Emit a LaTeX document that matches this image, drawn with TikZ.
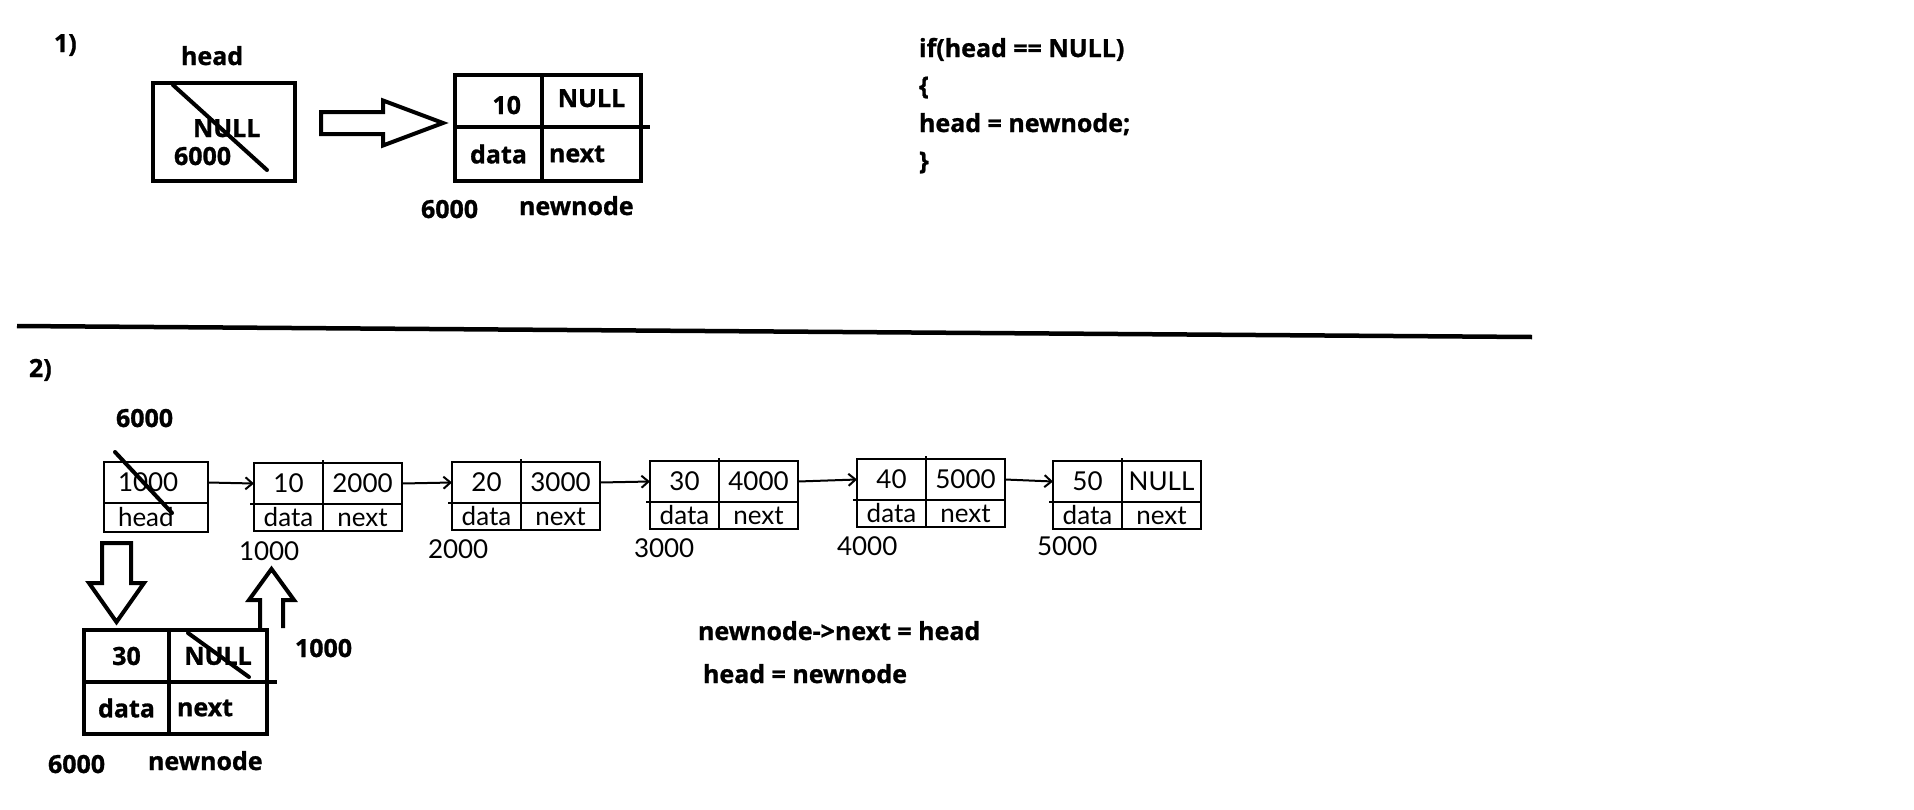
\documentclass[tikz,border=0pt]{standalone}
\usepackage{fontspec}
\usepackage{tikz}
\usetikzlibrary{arrows.meta, positioning, calc}
\newfontfamily\notefont{Open Sans}[BoldFeatures={FakeBold=1}]
\newfontfamily\listfont{Lato}

\begin{document}
\begin{tikzpicture}[x=1pt, y=-1pt, >={Straight Barb[length=7pt,width=12pt]}, line width=2pt]
\tikzstyle{note}=[font=\notefont\bfseries\fontsize{25}{30}\selectfont, inner sep=0pt, anchor=base west]
\tikzstyle{listtext}=[font=\listfont\fontsize{26}{30}\selectfont, inner sep=0pt, anchor=base west]
\tikzstyle{bigcell}=[draw, line width=4pt, inner sep=0pt, outer sep=0pt, anchor=north west, font=\notefont\bfseries\fontsize{25}{30}\selectfont]
\tikzstyle{cell}=[draw, line width=2pt, inner sep=0pt, outer sep=0pt, anchor=north west, font=\listfont\fontsize{26}{30}\selectfont]
\tikzstyle{strike}=[line width=4pt, line cap=round]
\tikzstyle{blockarrow}=[draw, line width=4pt]
\useasboundingbox (0,0) rectangle (1914,809);

% 1) empty list
\node[note] (one) at (53,52) {1)};
\node[bigcell, minimum width=142pt, minimum height=98pt] (head1) at (153,83) {};
\node[note] (headlbl) at (180,65) {head};
\node[note] (null1) at (192,137) {NULL};
\node[note] (addr1) at (173,165) {6000};
\draw[strike] (173,85) -- (267,170);

\node[bigcell, minimum width=87pt, minimum height=52pt, text width=45pt, align=right, text height=26pt, text depth=0pt] (val1) at (455,75) {10};
\node[bigcell, minimum width=99pt, minimum height=52pt, text height=12pt, text depth=0pt] (ptr1) at (val1.north east) {NULL};
\node[bigcell, minimum width=87pt, minimum height=54pt] (dlbl1) at (val1.south west) {data};
\node[bigcell, minimum width=99pt, minimum height=54pt, text width=85pt, align=left] (nlbl1) at (val1.south east) {next};
\draw[line width=4pt] (ptr1.south east) -- ++(9,0);
\node[note] (addr1b) at (420,218) {6000};
\node[note] (name1) at (518,215) {newnode};

\coordinate (push1) at (321,123);
\draw[blockarrow] (push1) ++(0,-11) -- ++(62,0) -- ++(0,-11.5) -- ++(60,22.5) -- ++(-60,22.5) -- ++(0,-11.5) -- ++(-62,0) -- cycle;

\foreach \line [count=\i] in {{if(head == NULL)}, \{, {head = newnode;}, \}}
  \node[note] (code\i) at (918,{57+37.5*(\i-1)}) {\line};

\draw[line width=4.5pt] (17,326) -- (1532,337);

% 2) insert at front
\node[note] (two) at (28,377) {2)};
\node[note] (addr2) at (115,427) {6000};
\node[cell, minimum width=104pt, minimum height=41pt, text width=76pt, align=left] (hval) at (104,462) {1000};
\node[cell, minimum width=104pt, minimum height=29pt, text width=76pt, align=left] (hlbl) at (hval.south west) {head};
\draw[strike] (115,452) -- (172,513);

\foreach \x/\y/\val/\ptr/\addr/\ax/\ay [count=\i] in {254/463/10/2000/1000/238/560, 452/462/20/3000/2000/427/558, 650/461/30/4000/3000/633/557, 857/459/40/5000/4000/836/555, 1053/461/50/NULL/5000/1036/555} {
  \node[cell, minimum width=69pt, minimum height=41pt] (d\i) at (\x,\y) {\val};
  \node[cell, minimum width=79pt, minimum height=41pt] (p\i) at (d\i.north east) {\ptr};
  \node[cell, minimum width=69pt, minimum height=27pt] (dl\i) at (d\i.south west) {data};
  \node[cell, minimum width=79pt, minimum height=27pt] (pl\i) at (d\i.south east) {next};
  \draw (dl\i.north west) -- ++(-4,0);
  \draw (p\i.north west) -- ++(0,-3);
  \node[listtext] (a\i) at (\ax,\ay) {\addr};
}
\draw[->] (hval.east) -- (d1.west);
\foreach \i/\j in {1/2, 2/3, 3/4, 4/5}
  \draw[->] (p\i.east) -- (d\j.west);

\node[bigcell, minimum width=85pt, minimum height=52pt] (val2) at (84,630) {30};
\node[bigcell, minimum width=98pt, minimum height=52pt] (ptr2) at (val2.north east) {NULL};
\node[bigcell, minimum width=85pt, minimum height=52pt] (dlbl2) at (val2.south west) {data};
\node[bigcell, minimum width=98pt, minimum height=52pt, text width=82pt, align=left] (nlbl2) at (val2.south east) {next};
\draw[line width=4pt] (ptr2.south east) -- ++(10,0);
\draw[strike] (188,633) -- (249,677);

\coordinate (down2) at (116.5,543);
\draw[blockarrow] (down2) ++(-14.5,0) -- ++(29,0) -- ++(0,40) -- ++(13,0) -- ++(-27.5,39) -- ++(-27.5,-39) -- ++(13,0) -- cycle;
\coordinate (up2) at (271.5,628);
\draw[blockarrow] (up2) ++(-11.5,0) -- ++(0,-28) -- ++(-11,0) -- ++(22.5,-31) -- ++(22.5,31) -- ++(-11,0) -- ++(0,28);

\node[note] (addr3) at (294,657) {1000};
\node[note] (addr4) at (47,773) {6000};
\node[note] (name2) at (147,770) {newnode};

\node[note] (stmt1) at (697,640) {newnode->next = head};
\node[note] (stmt2) at (702,683) {head = newnode};
\end{tikzpicture}
\end{document}
